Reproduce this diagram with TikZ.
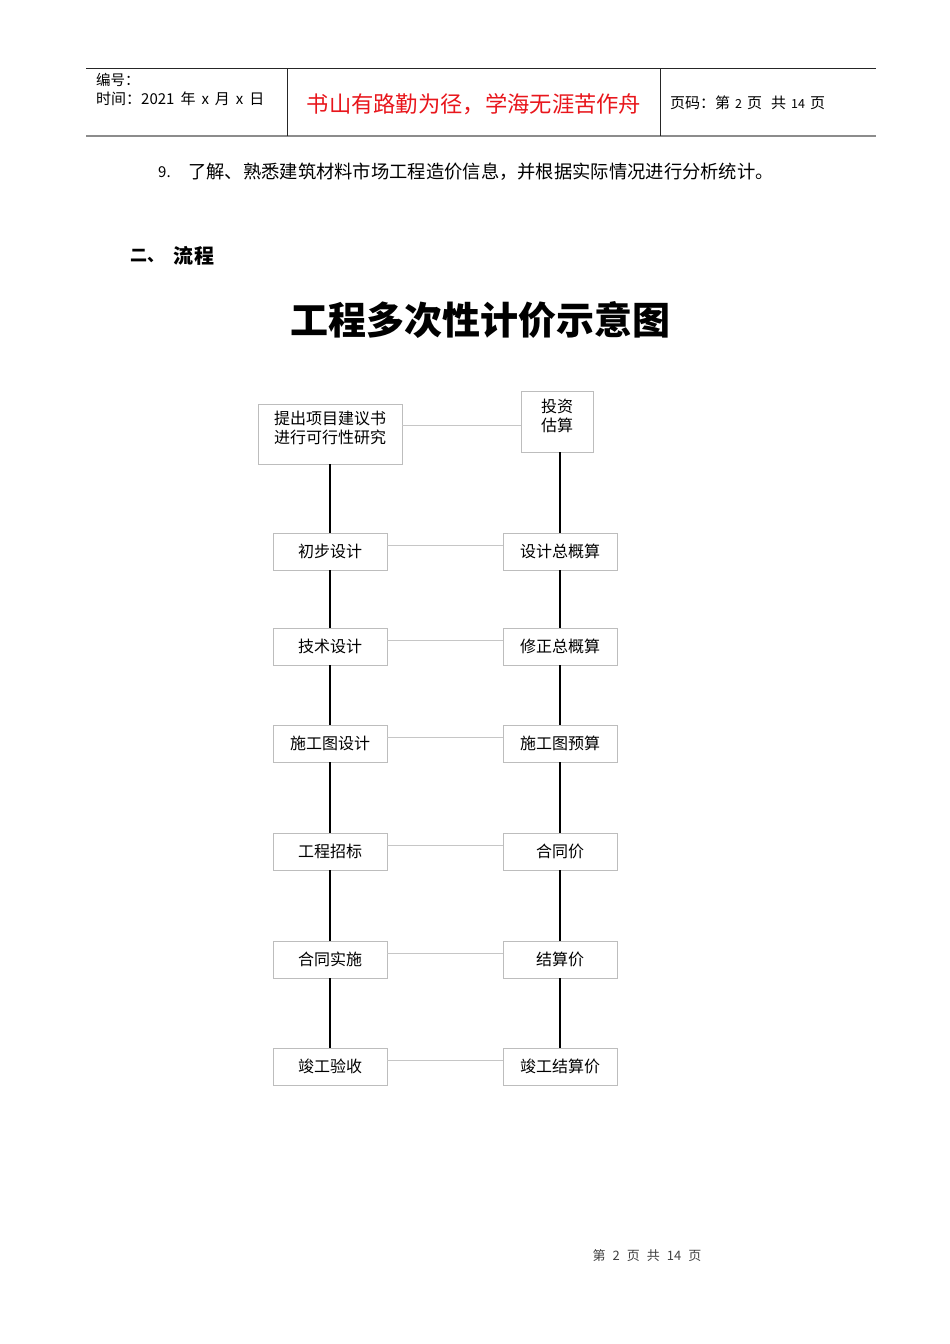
\documentclass[tikz,border=0pt]{standalone}
\usepackage{fontspec}
\usepackage{tikz}
\usetikzlibrary{positioning}
\newfontfamily\cjk{Noto Sans CJK SC}
\newcommand{\sz}[1]{\fontsize{#1}{#1}\selectfont}
\definecolor{boxgray}{HTML}{BDBDBD}
\definecolor{linkgray}{HTML}{C6C6C6}
\definecolor{mottored}{HTML}{E8161C}

\begin{document}
\begin{tikzpicture}[x=1pt, y=-1pt]
  \tikzset{every node/.style={inner sep=0pt, font=\cjk},
    stage/.style={draw=boxgray, line width=0.8pt, align=center,
      minimum width=114pt, minimum height=37pt, font=\cjk\sz{16}},
    link/.style={draw=linkgray, line width=0.8pt},
    flow/.style={draw=black, line width=1.7pt}}
  \useasboundingbox (0,0) rectangle (950,1344);
  % page header
  \draw[line width=0.8pt, black!85] (86,68) -- (876,68);
  \draw[line width=1.8pt, black!45] (86,136) -- (876,136);
  \draw[line width=0.8pt, black!85] (287,68) -- (287,136);
  \draw[line width=0.8pt, black!85] (660,68) -- (660,136);
  \node[anchor=west, font=\cjk\sz{14.5}] (serial) at (96,80) {编号：};
  \node[anchor=west, font=\cjk\sz{15}] (date) at (96,99)
    {时间：2021\hspace{6pt}年\hspace{6pt}x\hspace{6pt}月\hspace{6pt}x\hspace{6pt}日};
  \node[font=\cjk\sz{22.3}, text=mottored] (motto) at (474,104) {书山有路勤为径，学海无涯苦作舟};
  \node[anchor=west, font=\cjk\sz{15}] (pageno) at (670,103)
    {页码：第\hspace{5pt}{\sz{12.5}2}\hspace{5pt}页\hspace{9pt}共\hspace{5pt}{\sz{12.5}14}\hspace{5pt}页};
  % body text
  \node[anchor=west, font=\cjk\sz{15}] (item) at (158,172) {9.};
  \node[anchor=west, font=\cjk\sz{18.3}] (itemtext) at (188,172)
    {了解、熟悉建筑材料市场工程造价信息，并根据实际情况进行分析统计。};
  \node[anchor=west, font=\cjk\bfseries\sz{17}] (section) at (130,256) {二、};
  \node[anchor=west, font=\cjk\bfseries\sz{20}] (sectiontitle) at (173,256) {流\hspace{1pt}程};
  \node[font=\cjk\bfseries\sz{38}] (title) at (480,320) {工程多次性计价示意图};
  % diagram
  \node[stage, minimum width=144pt, minimum height=60pt, text depth=13pt] (propose) at (330,434)
    {提出项目建议书\\[3pt]进行可行性研究};
  \node[stage, minimum width=72pt, minimum height=61pt, text depth=12pt] (estimate) at (557,421.5)
    {投资\\[3pt]估算};
  \draw[link] ([yshift=9pt]propose.east) -- ([yshift=9pt]propose.east -| estimate.west);
  \foreach \ypos/\design/\cost [count=\i] in {551.5/初步设计/设计总概算,
      646.5/技术设计/修正总概算, 743.5/施工图设计/施工图预算,
      851.5/工程招标/合同价, 959.5/合同实施/结算价, 1066.5/竣工验收/竣工结算价} {
    \node[stage] (d\i) at (330,\ypos) {\design};
    \node[stage] (c\i) at (560,\ypos) {\cost};
    \draw[link] ([yshift=6pt]d\i.east) -- ([yshift=6pt]c\i.west);
  }
  \draw[flow] (propose) -- (d1);
  \draw[flow] (c1.north |- estimate.south) -- (c1);
  \foreach \i [evaluate=\i as \j using int(\i+1)] in {1,...,5} {
    \draw[flow] (d\i) -- (d\j);
    \draw[flow] (c\i) -- (c\j);
  }
  % page footer
  \node[font=\cjk\sz{13}, text=black!75] (footer) at (647,1256)
    {第\hspace{7pt}2\hspace{7pt}页\hspace{7pt}共\hspace{7pt}14\hspace{7pt}页};
\end{tikzpicture}
\end{document}
